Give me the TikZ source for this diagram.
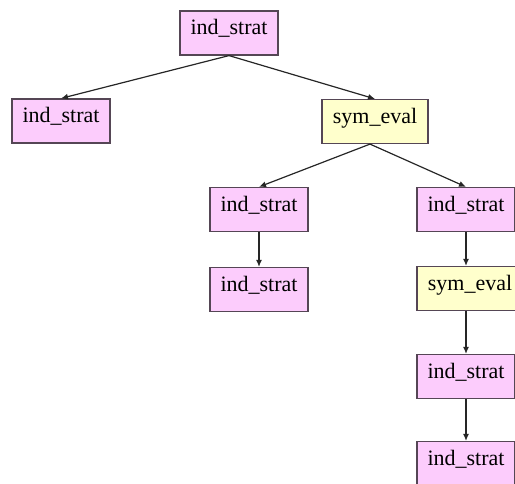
\documentclass[tikz,border=0pt]{standalone}
\usepackage{fontspec}
\setmainfont{Liberation Serif}
\usetikzlibrary{arrows.meta}
\definecolor{stratpink}{RGB}{252,204,252}
\definecolor{evalyellow}{RGB}{255,255,204}
\definecolor{boxline}{RGB}{85,70,85}
\begin{document}
\begin{tikzpicture}[x=1pt, y=-1pt,
    box/.style = {draw = boxline, line width = 1.2pt, minimum width = 98pt,
      inner xsep = 6pt, inner ysep = 8pt, text height = 16pt, text depth = 12pt,
      font = \fontsize{22}{26}\selectfont},
    strat box/.style = {box, fill = stratpink},
    eval box/.style = {box, fill = evalyellow, minimum width = 106pt},
    edge/.style = {draw = black!85, line width = 1.2pt, -{Latex[length=7pt, width=6pt]}}]
     \useasboundingbox (0,0) rectangle (515,484);
     % the nodes
     \node (root strat) [strat box] at (229,33) {ind\_strat};
     \node (left strat) [strat box] at (61,121) {ind\_strat};
     \node (top eval) [eval box] at (375,121.5) {sym\_eval};
     \node (mid strat) [strat box] at (259,209.5) {ind\_strat};
     \node (mid strat 2) [strat box] at (259,289.5) {ind\_strat};
     \node (right strat) [strat box] at (466,209.5) {ind\_strat};
     \node (right eval) [eval box] at (470,288.5) {sym\_eval};
     \node (right strat 2) [strat box] at (466,376.5) {ind\_strat};
     \node (right strat 3) [strat box] at (466,463.5) {ind\_strat};
     % the arrows
     \draw[edge] (root strat.south) to (left strat.north);
     \draw[edge] (root strat.south) to (top eval.north);
     \draw[edge] ([xshift=-5pt]top eval.south) to (mid strat.north);
     \draw[edge] ([xshift=-5pt]top eval.south) to (right strat.north);
     \draw[edge] (mid strat) to (mid strat 2);
     \draw[edge] (right strat) to (right strat 2 |- right eval.north);
     \draw[edge] (right strat |- right eval.south) to (right strat 2);
     \draw[edge] (right strat 2) to (right strat 3);
\end{tikzpicture}
\end{document}
